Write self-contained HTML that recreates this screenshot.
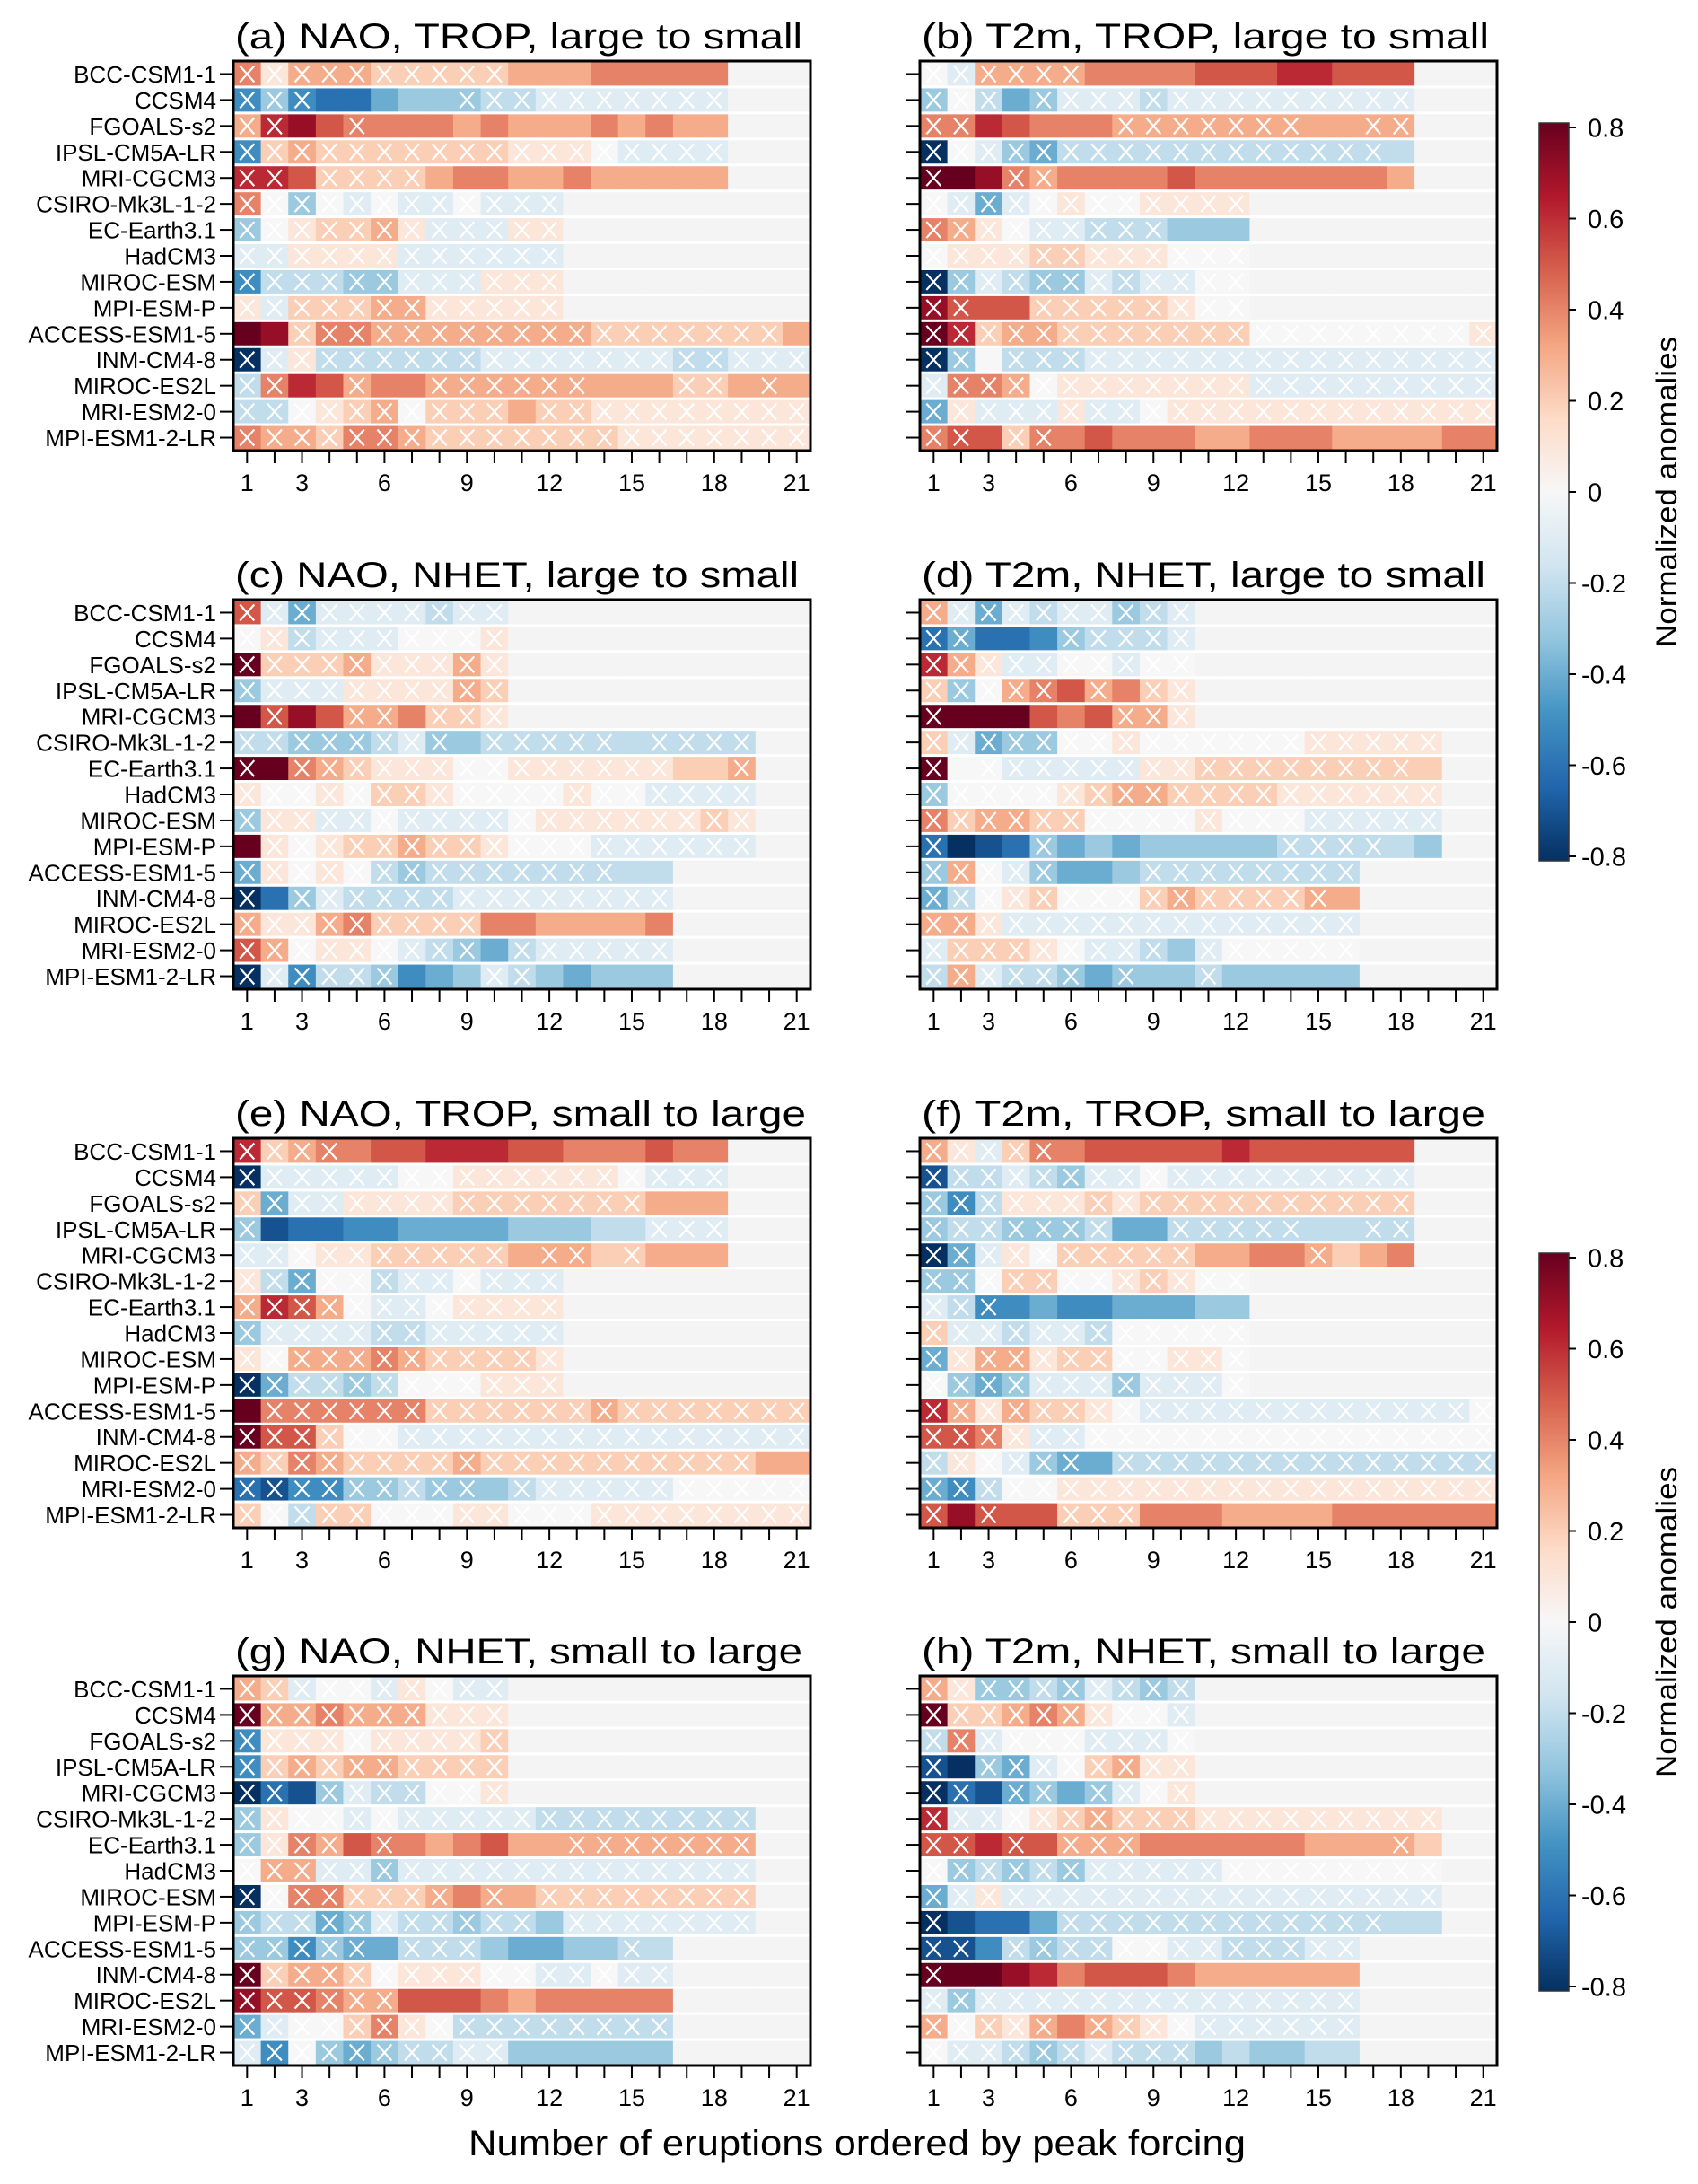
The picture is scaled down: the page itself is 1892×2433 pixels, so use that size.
<!DOCTYPE html>
<html><head><meta charset="utf-8"><style>
html,body{margin:0;padding:0;background:#fff;}
svg{display:block;font-family:"Liberation Sans",Arial,sans-serif;}
</style></head>
<body>
<svg id="fig" xmlns="http://www.w3.org/2000/svg" width="1892" height="2433" viewBox="0 0 1892 2433"></svg>
<script>
// ---- data ----
const models = ["BCC-CSM1-1","CCSM4","FGOALS-s2","IPSL-CM5A-LR","MRI-CGCM3","CSIRO-Mk3L-1-2","EC-Earth3.1","HadCM3","MIROC-ESM","MPI-ESM-P","ACCESS-ESM1-5","INM-CM4-8","MIROC-ES2L","MRI-ESM2-0","MPI-ESM1-2-LR"];
const xTickLabels = [1,3,6,9,12,15,18,21];
const cbarTicks = [0.8,0.6,0.4,0.2,0,-0.2,-0.4,-0.6,-0.8];
// value code: A=-0.8 ... I=0 ... Q=0.8 ; lowercase = marked with X ; '.' = no data
const naoTropL2S = ["mjlllkkkkkLLLMMMMM...","dfdCCEFFfgghhhhhhh...","loPNmMMMLMLLLMLMLL...","dklkkkkkkkjjjihhhh...","ooNkkkkLMMLLMLLLLL...","mifihihhihhh.........","fijkkljhhhjj.........","hhjjjjhhhhhh.........","dgggffhhhjjj.........","jhkkklljjjjj.........","QPkmmllllllllkkkkkkkL","ahjgggggghhhhhhhgghhh","gmONlMMllllllLLLkkLlL","ggijklikkkLkkjjjjjjjj","mllkmmlkkkkkkkjjjjjjj"];
const t2mTropL2S = ["ihllllMMMMNNNOONNN...","figEfhhhghhhhhhhhh...","mmONMMMlllllllLLll...","aihfeggggggggggggG...","qQPmlMMMMNMMMMMMML...","ihehijiijjjj.........","mljihhgggFFF.........","ijjjkkjjjiii.........","afhgffhghhii.........","pnNNkkkkkjii.........","qokllkkkkkkkiiiiiiiij","afIggghhhhhhhhhhhhhhh","hmmlijjjjjjjhhhhhhhhh","ejhhhjhhijjjjjjjjjjjj","mnNkmMNMMMLLMMMLLLLMM"];
const naoNhetL2S = ["nhehhhhghh...........","ijghhhiiij...........","qkkkljjjlj...........","fhhhjjjjlk...........","QnPNllMkkj...........","ggfffghfFgggggGgggg..","qQmlkjjjiijjjjjjKKl..","jiijikkjiiiijiihhhh..","fjjhhihhhhijjjjjjkj..","Qjijkklkkjiiihhhhhh..","ejijigfgggggggGG.....","aCfhgggghhhhhhhh.....","ljjlmkkkkMMLLLLM.....","nlijjihgfEghhhhh.....","ahdggfDEFhgFEFFF....."];
const t2mNhetL2S = ["lhehghhfgh...........","ceCCDfgggh...........","oljhhiihii...........","kfilmNlMkj...........","qQQQNMNllj...........","kheffiijiiiiiijjjjj..","qIihhhhhjjkkkkkkkkK..","fiiiijkllkkkkjjjjjj..","mkllkkiiiijiiihhhhh..","cABCfEFEFFFFFggggGF..","flihfEEFgggggggg.....","egijkiiiklkkkklL.....","lljhhhhhhhhhhhhh.....","hkkkjihhgFhiiiii.....","glhggfEfFFgFFFFF....."];
const naoTropS2L = ["oklmMNNOOONNMMMNMM...","ahhhhhiijjjjjjihhh...","kehhjjjjkkkkkkkLLL...","fBCCDDEEEEFFFGGhhh...","hhijjkkkkkLllKkLLL...","jgeiighhihhh.........","lonlihhijjjj.........","fhhhhgghhhhh.........","jilllmlkkkkj.........","aeggfgiiijjj.........","Qmmmmmmkkkkkklkkkkkkk","qnnkiihhhhhhhhhhhhhhh","lkmlkkkklkkkkkkkkkkLL","cbddffgffFghhhhhiiiii","kigkkiiijjiiijjjjjjjj"];
const t2mTropS2L = ["ljhkmMNNNNNONNNNNN...","bgghgfhhihhhhhhhhh...","fdgjjjkjkkkkkkkkkk...","fggfffgEEgggggGGgg...","aehjikkkkkLLMMlKLM...","ffikkiijkjii.........","hgdDEDDEEEFF.........","khhghhgiiiii.........","ejlljkkiijji.........","ifefhhhfhhhi.........","oljlkkjihhhhhhhhhhhhi","nnmjhhiiiiiiiiiiiiiii","gjihfeEgggggggggggggg","edgiijjjjjjjjjjjjjjjj","nPnNNkkkMMMLLLLMMMMMM"];
const naoNhetS2L = ["lkhiihjihh...........","qllmllljjj...........","djjjijjjjk...........","dklkllkkkk...........","acBfhggiij...........","fjiihihhhhhgggggggg..","fjmlNmMLMNLLlllllll..","illhhfhhhhhhhhhhhhh..","aimmkkklMlLkkkkkkkk..","fggefhggfggFhhhhhhh..","ffdfeEgggFEEFFgG.....","qkllkijjjiihhihh.....","pnnmllNNNMLMMMMM.....","ehiikmjigggggggg.....","hdifefgghhFFFFFF....."];
const t2mNhetS2L = ["ljffgfhgfg...........","qkklmljiih...........","gmhiiihhhi...........","bAfehikljj...........","acBefEfhij...........","ohhijklkkkjjjjjjjjj..","nnOnNlllMMMMMMLLLlK..","ifgfgfhhhhhiiiiiiii..","ehjhhhhhhhhhhhhhhhh..","aBCCEggggggggggggGG..","bbDgfggiihhggghh.....","qQQPOMNNNMLLLLLL.....","hfhhhhhhhhhhhhhh.....","likjlMlkjihhhhhh.....","ihhgfghgggFGFFGG....."];

// ---- rendering ----
const NS = "http://www.w3.org/2000/svg";
const svg = document.getElementById("fig");
function el(tag, parent){ const e=document.createElementNS(NS,tag); (parent||svg).appendChild(e); return e; }
const STOPS = ["#053061","#2166ac","#4393c3","#92c5de","#d1e5f0","#f7f7f7","#fddbc7","#f4a582","#d6604d","#b2182b","#67001f"];
function hex(h){return [parseInt(h.substr(1,2),16),parseInt(h.substr(3,2),16),parseInt(h.substr(5,2),16)];}
function color(v){
  let t=(v+0.8)/1.6; t=Math.max(0,Math.min(1,t));
  const p=t*(STOPS.length-1); const i=Math.min(Math.floor(p),STOPS.length-2); const f=p-i;
  const a=hex(STOPS[i]), b=hex(STOPS[i+1]);
  return "rgb("+a.map((x,k)=>Math.round(x+(b[k]-x)*f)).join(",")+")";
}
function decode(ch){
  if(ch==='.'||ch===undefined) return null;
  const up=ch.toUpperCase();
  return {v:(up.charCodeAt(0)-65-8)/10, x: ch!==up};
}
const NC=21, NR=15, PW=643, PH=434;
function xScale(x0,col){ return x0 + (col-0.5)*PW/NC; }   // col 1-based centre
function yScale(y0,row){ return y0 + (row+0.5)*PH/NR; }   // row 0-based centre

const panels = [
 {key:"a", title:"(a) NAO, TROP, large to small", x0:260, y0:68, data:naoTropL2S, labels:true},
 {key:"b", title:"(b) T2m, TROP, large to small", x0:1025, y0:68, data:t2mTropL2S, labels:false},
 {key:"c", title:"(c) NAO, NHET, large to small", x0:260, y0:668, data:naoNhetL2S, labels:true},
 {key:"d", title:"(d) T2m, NHET, large to small", x0:1025, y0:668, data:t2mNhetL2S, labels:false},
 {key:"e", title:"(e) NAO, TROP, small to large", x0:260, y0:1268, data:naoTropS2L, labels:true},
 {key:"f", title:"(f) T2m, TROP, small to large", x0:1025, y0:1268, data:t2mTropS2L, labels:false},
 {key:"g", title:"(g) NAO, NHET, small to large", x0:260, y0:1867, data:naoNhetS2L, labels:true},
 {key:"h", title:"(h) T2m, NHET, small to large", x0:1025, y0:1867, data:t2mNhetS2L, labels:false}
];
const titleLen = {a:632,b:632,c:628,d:628,e:636,f:628,g:632,h:628};

panels.forEach(p=>{
  const g=el("g");
  
  
  const t=el("text",g);
  
  
  t.setAttribute("x",p.x0+2); t.setAttribute("y",p.y0-14);
  t.setAttribute("font-size","40"); t.setAttribute("textLength",titleLen[p.key]); t.setAttribute("lengthAdjust","spacingAndGlyphs");
  t.textContent=p.title;
  const rh=PH/NR, cw=PW/NC;
  for(let r=0;r<NR;r++){
    const row=p.data[r];
    for(let c=1;c<=NC;c++){
      const d=decode(row[c-1]);
      const rect=el("rect",g);
      
      
      const cx=xScale(p.x0,c), cy=yScale(p.y0,r);
      rect.setAttribute("x",(cx-cw/2).toFixed(2)); rect.setAttribute("y",(cy-rh/2+1.5).toFixed(2));
      rect.setAttribute("width",(cw+0.6).toFixed(2)); rect.setAttribute("height",(rh-3).toFixed(2));
      rect.setAttribute("fill", d? color(d.v) : "#f4f4f4");
      if(d&&d.x){
        const m=el("path",g);
        
        
        m.setAttribute("d",`M${cx-8},${cy-9}L${cx+8},${cy+9}M${cx+8},${cy-9}L${cx-8},${cy+9}`);
        m.setAttribute("stroke","#fff"); m.setAttribute("stroke-width","2.2"); m.setAttribute("fill","none");
      }
    }
    // y tick
    const tk=el("line",g);
    
    
    const cy=yScale(p.y0,r);
    tk.setAttribute("x1",p.x0-15); tk.setAttribute("x2",p.x0); tk.setAttribute("y1",cy); tk.setAttribute("y2",cy);
    tk.setAttribute("stroke","#000"); tk.setAttribute("stroke-width","2");
    if(p.labels){
      const lb=el("text",g);
      
      
      lb.setAttribute("x",p.x0-19); lb.setAttribute("y",cy+9.5);
      lb.setAttribute("text-anchor","end"); lb.setAttribute("font-size","26");
      lb.textContent=models[r];
    }
  }
  // frame
  const fr=el("rect",g);
  
  
  fr.setAttribute("x",p.x0); fr.setAttribute("y",p.y0); fr.setAttribute("width",PW); fr.setAttribute("height",PH);
  fr.setAttribute("fill","none"); fr.setAttribute("stroke","#000"); fr.setAttribute("stroke-width","3");
  // x ticks
  for(let c=1;c<=NC;c++){
    const x=xScale(p.x0,c);
    const tk=el("line",g);
    
    
    tk.setAttribute("x1",x); tk.setAttribute("x2",x); tk.setAttribute("y1",p.y0+PH); tk.setAttribute("y2",p.y0+PH+14);
    tk.setAttribute("stroke","#000"); tk.setAttribute("stroke-width","2");
  }
  xTickLabels.forEach(v=>{
    const tl=el("text",g);
    
    
    tl.setAttribute("x",xScale(p.x0,v)); tl.setAttribute("y",p.y0+PH+45);
    tl.setAttribute("text-anchor","middle"); tl.setAttribute("font-size","27");
    tl.textContent=v;
  });
});

// gradient
const defs=el("defs");
const lg=el("linearGradient",defs);
lg.setAttribute("id","cb"); lg.setAttribute("x1","0"); lg.setAttribute("y1","1"); lg.setAttribute("x2","0"); lg.setAttribute("y2","0");
STOPS.forEach((s,i)=>{ const st=el("stop",lg); st.setAttribute("offset",(i/(STOPS.length-1)).toFixed(3)); st.setAttribute("stop-color",s); });

[{y:142,k:1},{y:1401,k:2}].forEach(cb=>{
  const g=el("g");
  
  
  const span=812;
  const r=el("rect",g);
  
  
  r.setAttribute("x",1715); r.setAttribute("y",cb.y-5); r.setAttribute("width",33); r.setAttribute("height",span+10);
  r.setAttribute("fill","url(#cb)"); r.setAttribute("stroke","#333"); r.setAttribute("stroke-width","1.5");
  cbarTicks.forEach(v=>{
    const y=cb.y+(0.8-v)/1.6*span;
    const tk=el("line",g);
    
    
    tk.setAttribute("x1",1748); tk.setAttribute("x2",1756); tk.setAttribute("y1",y); tk.setAttribute("y2",y);
    tk.setAttribute("stroke","#000"); tk.setAttribute("stroke-width","2");
    const tl=el("text",g);
    
    
    tl.setAttribute("x",v<0?1762:1769); tl.setAttribute("y",y+10.5); tl.setAttribute("font-size","29");
    tl.textContent=(v===0?"0":v.toFixed(1));
  });
  const lab=el("text",g);
  
  
  const cy=cb.y+span/2;
  lab.setAttribute("transform",`translate(1868,${cy}) rotate(-90)`);
  lab.setAttribute("text-anchor","middle"); lab.setAttribute("font-size","32");
  lab.setAttribute("textLength","346"); lab.setAttribute("lengthAdjust","spacingAndGlyphs");
  lab.textContent="Normalized anomalies";
});

const xt=el("text");


xt.setAttribute("x",955); xt.setAttribute("y",2401); xt.setAttribute("text-anchor","middle");
xt.setAttribute("font-size","40"); xt.setAttribute("textLength","866"); xt.setAttribute("lengthAdjust","spacingAndGlyphs");
xt.textContent="Number of eruptions ordered by peak forcing";
</script>
</body></html>
